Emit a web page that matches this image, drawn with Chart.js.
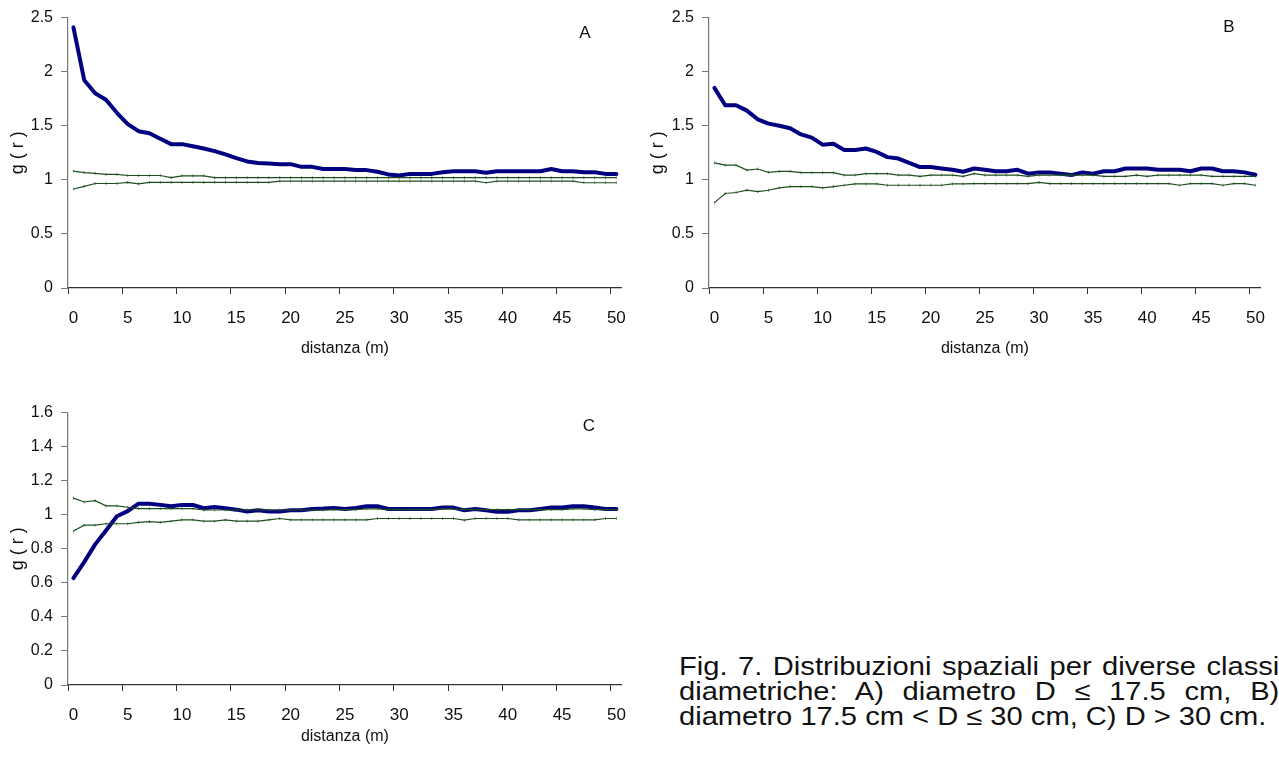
<!DOCTYPE html>
<html>
<head>
<meta charset="utf-8">
<script src="https://cdn.jsdelivr.net/npm/chart.js@4.4.1/dist/chart.umd.min.js"></script>
<style>
  html, body { margin: 0; padding: 0; background: #fff; width: 1279px; height: 758px; overflow: hidden; }
  canvas { position: absolute; }
  #chartA { left: 0; top: 0; }
  #chartB { left: 640px; top: 0; }
  #chartC { left: 0; top: 395px; }
  .caption {
    position: absolute; left: 679px; top: 654px; width: 536px;
    font-family: "Liberation Sans", Arial, sans-serif; font-size: 26px; line-height: 25px; color: #111;
    transform: scaleX(1.12); transform-origin: 0 0;
  }
  .caption .j { text-align: justify; text-align-last: justify; }
</style>
</head>
<body>
<canvas id="chartA" width="640" height="362"></canvas>
<canvas id="chartB" width="639" height="362"></canvas>
<canvas id="chartC" width="640" height="355"></canvas>
<div class="caption">
  <div class="j">Fig. 7. Distribuzioni spaziali per diverse classi</div>
  <div class="j">diametriche: A) diametro D ≤ 17.5 cm, B)</div>
  <div>diametro 17.5 cm &lt; D ≤ 30 cm, C) D &gt; 30 cm.</div>
</div>
<script>
/* g(r) by distance class, with upper / lower envelope */
var distances = ['0','1','2','3','4','5','6','7','8','9','10','11','12','13','14','15','16','17','18','19','20',
  '21','22','23','24','25','26','27','28','29','30','31','32','33','34','35','36','37','38','39','40',
  '41','42','43','44','45','46','47','48','49','50'];

// A) D <= 17.5 cm
var aMain = [2.41,1.92,1.80,1.74,1.62,1.515,1.45,1.43,1.38,1.33,
  1.33,1.31,1.29,1.265,1.235,1.20,1.17,1.155,1.15,1.145,
  1.145,1.12,1.12,1.10,1.10,1.10,1.09,1.09,1.075,1.05,
  1.04,1.055,1.055,1.055,1.07,1.08,1.08,1.08,1.065,1.08,
  1.08,1.08,1.08,1.08,1.10,1.08,1.08,1.07,1.07,1.055,1.055];
var aUpper = [1.08,1.067,1.06,1.05,1.05,1.04,1.04,1.04,1.04,1.02,
  1.037,1.037,1.037,1.02,1.02,1.02,1.02,1.02,1.02,1.02,
  1.02,1.02,1.02,1.02,1.02,1.02,1.02,1.02,1.02,1.02,
  1.02,1.02,1.02,1.02,1.02,1.02,1.02,1.02,1.02,1.02,
  1.02,1.02,1.02,1.02,1.02,1.02,1.02,1.02,1.02,1.02,1.02];
var aLower = [0.915,0.94,0.966,0.966,0.966,0.976,0.963,0.976,0.976,0.976,
  0.976,0.976,0.976,0.976,0.976,0.976,0.976,0.976,0.976,0.988,
  0.988,0.988,0.988,0.988,0.988,0.988,0.988,0.988,0.988,0.988,
  0.988,0.988,0.988,0.988,0.988,0.988,0.988,0.988,0.973,0.988,
  0.988,0.988,0.988,0.988,0.988,0.988,0.988,0.973,0.973,0.973,0.973];

// B) 17.5 < D <= 30 cm
var bMain = [1.85,1.69,1.69,1.64,1.56,1.52,1.50,1.477,1.42,1.39,
  1.325,1.334,1.276,1.276,1.29,1.258,1.21,1.197,1.157,1.118,
  1.118,1.105,1.093,1.075,1.105,1.093,1.08,1.08,1.093,1.057,
  1.069,1.069,1.057,1.044,1.069,1.057,1.08,1.08,1.105,1.105,
  1.105,1.093,1.093,1.093,1.08,1.105,1.105,1.08,1.08,1.069,1.047];
var bUpper = [1.157,1.136,1.136,1.09,1.10,1.069,1.078,1.078,1.066,1.066,
  1.066,1.066,1.044,1.044,1.057,1.057,1.057,1.044,1.044,1.032,
  1.044,1.044,1.044,1.032,1.057,1.044,1.044,1.044,1.044,1.032,
  1.044,1.044,1.044,1.044,1.044,1.044,1.032,1.032,1.032,1.044,
  1.032,1.044,1.044,1.044,1.044,1.044,1.032,1.032,1.032,1.032,1.032];
var bLower = [0.789,0.874,0.883,0.904,0.892,0.904,0.926,0.938,0.938,0.938,
  0.926,0.938,0.95,0.962,0.962,0.962,0.95,0.95,0.95,0.95,
  0.95,0.95,0.962,0.962,0.965,0.965,0.965,0.965,0.965,0.965,
  0.977,0.965,0.965,0.965,0.965,0.965,0.965,0.965,0.965,0.965,
  0.965,0.965,0.965,0.95,0.965,0.965,0.965,0.95,0.965,0.965,0.95];

// C) D > 30 cm
var cMain = [0.628,0.723,0.826,0.908,0.991,1.021,1.065,1.065,1.058,1.05,
  1.058,1.058,1.038,1.046,1.038,1.03,1.019,1.026,1.019,1.019,
  1.026,1.026,1.034,1.036,1.04,1.034,1.04,1.05,1.05,1.034,
  1.034,1.034,1.034,1.034,1.042,1.042,1.026,1.034,1.026,1.017,
  1.017,1.026,1.026,1.034,1.042,1.042,1.05,1.05,1.042,1.034,1.034];
var cUpper = [1.098,1.075,1.083,1.052,1.052,1.044,1.036,1.036,1.036,1.036,
  1.036,1.036,1.028,1.028,1.028,1.028,1.028,1.028,1.028,1.028,
  1.028,1.028,1.028,1.028,1.03,1.03,1.03,1.035,1.035,1.03,
  1.03,1.03,1.03,1.03,1.035,1.035,1.03,1.03,1.03,1.03,
  1.03,1.03,1.03,1.03,1.03,1.03,1.035,1.035,1.03,1.03,1.03];
var cLower = [0.904,0.939,0.939,0.947,0.947,0.947,0.955,0.96,0.955,0.962,
  0.97,0.97,0.962,0.962,0.97,0.962,0.962,0.962,0.97,0.978,
  0.97,0.97,0.97,0.97,0.97,0.97,0.97,0.97,0.978,0.978,
  0.978,0.978,0.978,0.978,0.978,0.978,0.968,0.978,0.978,0.978,
  0.978,0.97,0.97,0.97,0.97,0.97,0.97,0.97,0.97,0.978,0.978];

var FONT = '"Liberation Sans", Arial, sans-serif';
var NAVY = '#000080';
var GREEN = '#1e4d1e';

// panel letter in the top right corner of the plot
var panelLabel = {
  id: 'panelLabel',
  afterDraw: function (chart, args, opts) {
    var ctx = chart.ctx, area = chart.chartArea;
    ctx.save();
    ctx.font = '17px ' + FONT;
    ctx.fillStyle = '#111';
    ctx.textAlign = 'center';
    ctx.textBaseline = 'middle';
    ctx.fillText(opts.text, area.right - opts.dx, area.top + opts.dy);
    ctx.restore();
  }
};

function envelope(data) {
  return {
    data: data,
    borderColor: GREEN,
    borderWidth: 1.2,
    pointStyle: 'line',
    rotation: 90,
    pointRadius: 1.5,
    pointBorderWidth: 0.6,
    pointBorderColor: GREEN,
    tension: 0
  };
}

function makeChart(id, main, upper, lower, yMax, yStep, pad, yWidth, xHeight, letter) {
  return new Chart(document.getElementById(id), {
    type: 'line',
    data: {
      labels: distances,
      datasets: [
        envelope(upper),
        envelope(lower),
        { data: main, borderColor: NAVY, borderWidth: 4, pointRadius: 0, tension: 0, borderJoinStyle: 'round', borderCapStyle: 'round' }
      ]
    },
    options: {
      responsive: false,
      animation: false,
      layout: { padding: pad },
      plugins: {
        legend: { display: false },
        tooltip: { enabled: false },
        panelLabel: letter
      },
      scales: {
        x: {
          type: 'category',
          offset: true,
          afterFit: function (s) { s.height = xHeight; },
          grid: {
            offset: true,
            drawOnChartArea: false,
            tickLength: 6,
            tickColor: function (c) { return c.index % 5 === 0 ? '#333' : 'rgba(0,0,0,0)'; }
          },
          border: { color: '#333', width: 1.2 },
          ticks: {
            autoSkip: false, maxRotation: 0, padding: 14, color: '#111',
            font: { family: FONT, size: 17 },
            callback: function (v, i) { return i % 5 === 0 ? distances[i] : ''; }
          },
          title: { display: true, text: 'distanza (m)', color: '#111', font: { family: FONT, size: 16 }, padding: { top: 0, bottom: 4 } }
        },
        y: {
          min: 0, max: yMax,
          afterFit: function (s) { s.width = yWidth; },
          grid: { drawOnChartArea: false, tickLength: 7, tickColor: '#777' },
          border: { color: '#777', width: 1.2 },
          ticks: {
            stepSize: yStep, padding: 8, color: '#111',
            font: { family: FONT, size: 16 },
            callback: function (v) { return String(+v.toFixed(2)); }
          },
          title: { display: true, text: 'g ( r )', color: '#111', font: { family: FONT, size: 18 }, padding: { top: 7, bottom: 0 } }
        }
      }
    },
    plugins: [panelLabel]
  });
}

makeChart('chartA', aMain, aUpper, aLower, 2.5, 0.5, { top: 15, right: 18, left: 0, bottom: 0 }, 68, 74, { text: 'A', dx: 37, dy: 16 });
makeChart('chartB', bMain, bUpper, bLower, 2.5, 0.5, { top: 15, right: 15, left: 0, bottom: 0 }, 69, 74, { text: 'B', dx: 32, dy: 10 });
makeChart('chartC', cMain, cUpper, cLower, 1.6, 0.2, { top: 16, right: 17, left: 0, bottom: 0 }, 68, 65, { text: 'C', dx: 33, dy: 14 });
</script>
</body>
</html>
